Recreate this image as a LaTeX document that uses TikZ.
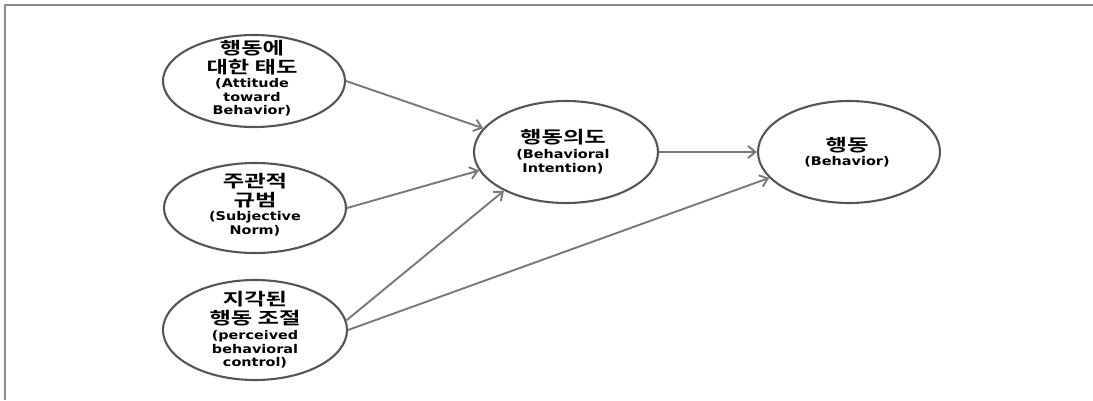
\documentclass[tikz,border=0pt]{standalone}
\usepackage{fontspec}
\usepackage{graphicx}
\usetikzlibrary{shapes.geometric,arrows.meta}
\newfontfamily\kfont{Noto Sans CJK KR Bold}
\newfontfamily\efont{DejaVu Sans Bold}
\newcommand\kline[1]{\scalebox{1.37}[1]{#1}}
\newcommand\eline[1]{\scalebox{1.2}[1]{#1}}
\definecolor{ellgray}{HTML}{555555}
\definecolor{arrgray}{HTML}{787878}
\definecolor{framegray}{HTML}{8C8C8C}
\tikzset{
  construct/.style={draw=ellgray, line width=2.1pt, ellipse, inner sep=0pt},
  kr/.style={align=center, inner sep=0pt, font={\kfont\fontsize{17}{19}\selectfont}},
  en/.style={align=center, inner sep=0pt, font={\efont\fontsize{12}{13.7}\selectfont}},
  arr/.style={draw=arrgray, line width=1.9pt, -{Straight Barb[length=7.5pt,width=12pt]}},
}
\begin{document}
\begin{tikzpicture}[x=1pt,y=-1pt]
\useasboundingbox (0,0) rectangle (1093,400);
\coordinate (fA) at (1093,5);
\coordinate (fB) at (5,5);
\coordinate (fC) at (5,400);
\draw[framegray, line width=1.8pt] (fA) -- (fB) -- (fC);

\node[construct, minimum width=182pt, minimum height=92pt] (att) at (254,81) {};
\node[construct, minimum width=182pt, minimum height=90pt] (sub) at (255,208) {};
\node[construct, minimum width=184pt, minimum height=100pt] (per) at (255,330) {};
\node[construct, minimum width=184pt, minimum height=102pt] (int) at (566,152) {};
\node[construct, minimum width=182pt, minimum height=102pt] (beh) at (849,152) {};

\node[kr] (attk) at (252,57.5) {\kline{행동에}\\\kline{대한 태도}};
\node[en] (atte) at (252,97.5) {\eline{(Attitude}\\\eline{toward}\\\eline{Behavior)}};
\node[kr] (subk) at (255,191) {\kline{주관적}\\\kline{규범}};
\node[en] (sube) at (255,223.5) {\eline{(Subjective}\\\eline{Norm)}};
\node[kr] (perk) at (255,308.5) {\kline{지각된}\\\kline{행동 조절}};
\node[en] (pere) at (255,349.5) {\eline{(perceived}\\\eline{behavioral}\\\eline{control)}};
\node[kr] (intk) at (563,137) {\kline{행동의도}};
\node[en] (inte) at (563,161.5) {\eline{(Behavioral}\\\eline{Intention)}};
\node[kr] (behk) at (847,145) {\kline{행동}};
\node[en] (behe) at (847,162) {\eline{(Behavior)}};

\draw[arr] (att.east) -- (int.164);
\draw[arr] (sub.east) -- (int.-168);
\draw[arr] (per.6) -- (int.-148);
\draw[arr] (int.east) -- (beh.west);
\draw[arr] (per.east) -- (beh.-162);
\end{tikzpicture}
\end{document}
